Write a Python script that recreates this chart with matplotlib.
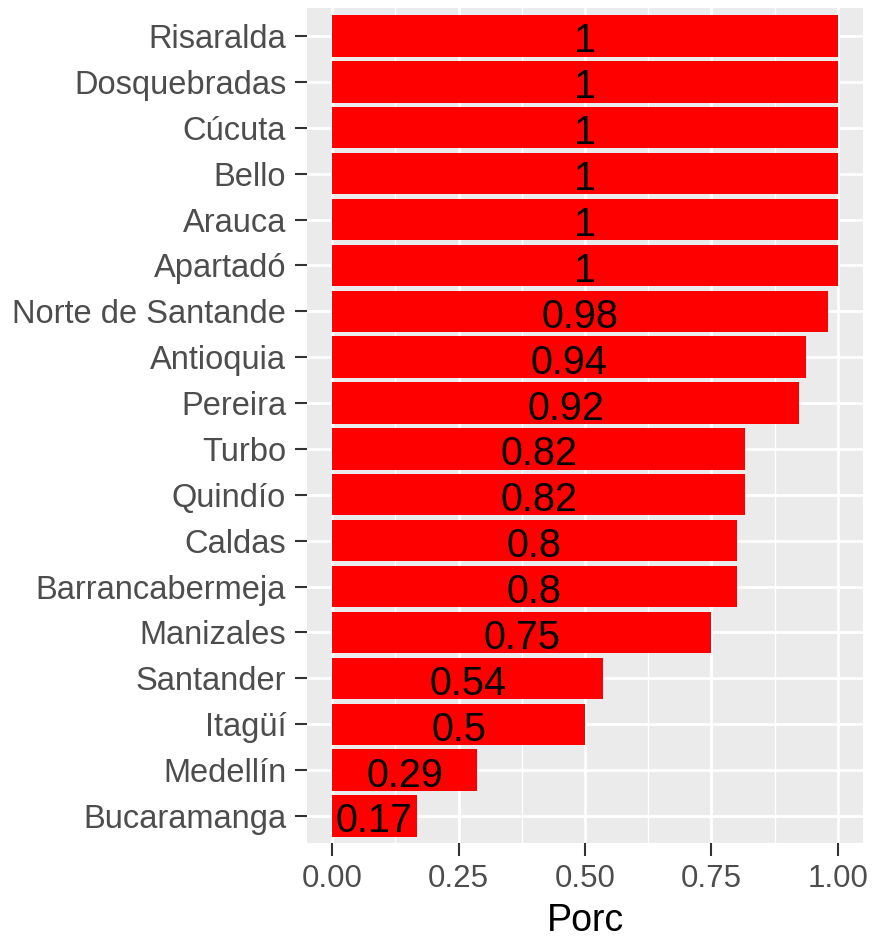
import numpy as np
import matplotlib
matplotlib.use('Agg')
import matplotlib.pyplot as plt
from matplotlib.ticker import MultipleLocator, FormatStrFormatter

# categories listed bottom -> top, as ggplot draws them
lugares = ['Bucaramanga', 'Medellín', 'Itagüí', 'Santander', 'Manizales',
           'Barrancabermeja', 'Caldas', 'Quindío', 'Turbo', 'Pereira',
           'Antioquia', 'Norte de Santande', 'Apartadó', 'Arauca', 'Bello',
           'Cúcuta', 'Dosquebradas', 'Risaralda']
porc = [0.1667, 0.2857, 0.5, 0.5357, 0.75,
        0.8, 0.8, 0.8163, 0.8163, 0.9231,
        0.9375, 0.9804, 1, 1, 1,
        1, 1, 1]

plt.rcParams['font.family'] = ['Liberation Sans', 'DejaVu Sans']

fig = plt.figure(figsize=(8.74, 9.4), dpi=100)
ax = fig.add_axes([0.3513, 0.1027, 0.9874 - 0.3513, 0.991 - 0.1027])
ax.set_facecolor('#EBEBEB')

y = np.arange(1, len(lugares) + 1)
ax.barh(y, porc, height=0.9, color='#FF0000', zorder=3)

# labels in the middle of each bar, like geom_text(position_stack(vjust=.5))
for yi, v in zip(y, porc):
    lab = f"{round(v, 2):g}"
    ax.text(v / 2, yi - 0.12, lab, ha='center', va='center', fontsize=28.5,
            color='black', zorder=4)

ax.set_xlim(-0.05, 1.05)
ax.set_ylim(0.4, len(lugares) + 0.6)
ax.set_yticks(y)
ax.set_yticklabels(lugares)
ax.xaxis.set_major_locator(MultipleLocator(0.25))
ax.xaxis.set_minor_locator(MultipleLocator(0.125))
ax.xaxis.set_major_formatter(FormatStrFormatter('%.2f'))

ax.grid(True, which='major', color='white', linewidth=2.0, zorder=1)
ax.grid(True, which='minor', axis='x', color='white', linewidth=1.0, zorder=1)
ax.set_axisbelow(True)
for s in ax.spines.values():
    s.set_visible(False)

ax.tick_params(axis='y', which='major', length=9, width=1.5, color='#333333',
               labelsize=23.5, labelcolor='#4D4D4D', pad=6)
ax.tick_params(axis='x', which='major', length=9, width=1.5, color='#333333',
               labelsize=22.5, labelcolor='#4D4D4D', pad=6)
ax.tick_params(axis='x', which='minor', length=0)
ax.set_xlabel('Porc', fontsize=27, color='black', labelpad=6)

fig.savefig('out.png', dpi=100)
